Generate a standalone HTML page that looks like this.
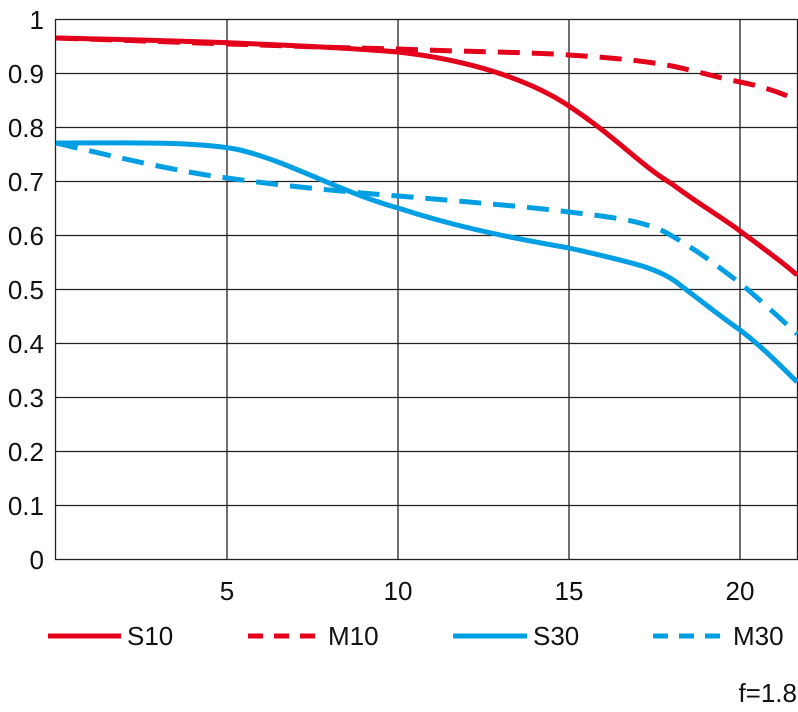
<!DOCTYPE html>
<html><head><style>body{margin:0;background:#fff}svg{display:block}</style></head><body>
<svg width="798" height="712" xmlns="http://www.w3.org/2000/svg" font-family="'Liberation Sans Narrow','Liberation Sans',sans-serif" font-size="26" fill="#111">
<g stroke="#222" stroke-width="1.3" fill="none">
<rect x="55.5" y="19.5" width="742" height="540"/>
<line x1="227" y1="19.5" x2="227" y2="559.5"/><line x1="398" y1="19.5" x2="398" y2="559.5"/><line x1="569" y1="19.5" x2="569" y2="559.5"/><line x1="740" y1="19.5" x2="740" y2="559.5"/>
<line x1="55.5" y1="73.5" x2="797" y2="73.5"/><line x1="55.5" y1="127.5" x2="797" y2="127.5"/><line x1="55.5" y1="181.5" x2="797" y2="181.5"/><line x1="55.5" y1="235.5" x2="797" y2="235.5"/><line x1="55.5" y1="289.5" x2="797" y2="289.5"/><line x1="55.5" y1="343.5" x2="797" y2="343.5"/><line x1="55.5" y1="397.5" x2="797" y2="397.5"/><line x1="55.5" y1="451.5" x2="797" y2="451.5"/><line x1="55.5" y1="505.5" x2="797" y2="505.5"/>
</g>
<g text-anchor="end">
<text x="44" y="29">1</text><text x="44" y="83">0.9</text><text x="44" y="137">0.8</text><text x="44" y="191">0.7</text><text x="44" y="245">0.6</text><text x="44" y="299">0.5</text><text x="44" y="353">0.4</text><text x="44" y="407">0.3</text><text x="44" y="461">0.2</text><text x="44" y="515">0.1</text><text x="44" y="569">0</text>
</g>
<g text-anchor="middle">
<text x="227" y="600">5</text><text x="398" y="600">10</text><text x="569" y="600">15</text><text x="740" y="600">20</text>
</g>
<g fill="none" stroke-width="5">
<path d="M56,38 C150,40 300,44 398,52 C470,60 530,80 569,106 C620,140 640,165 672,184 C700,205 720,216 740,231 C760,246 780,260 797,275" stroke="#e2001a"/>
<path d="M56,38 C150,41 300,47 398,49 C470,52 530,52 569,55 C620,58 650,62 672,66 C700,72 720,78 740,82 C770,88 785,95 797,100" stroke="#e2001a" stroke-dasharray="22,12"/>
<path d="M56,143 C120,143 200,141 240,150 C290,162 340,192 398,208 C450,225 500,236 569,248 C630,262 660,268 680,285 C700,300 720,316 740,330 C760,345 780,365 797,382" stroke="#009fe3"/>
<path d="M56,143 C120,158 180,172 227,178 C300,188 350,192 398,196 C470,202 530,207 569,212 C620,218 650,222 672,236 C700,252 720,268 740,283 C760,300 780,318 797,334" stroke="#009fe3" stroke-dasharray="22,12"/>
</g>
<g stroke-width="5">
<line x1="48" y1="636" x2="121" y2="636" stroke="#e2001a"/>
<line x1="248" y1="636" x2="321" y2="636" stroke="#e2001a" stroke-dasharray="15,11"/>
<line x1="453" y1="636" x2="527" y2="636" stroke="#009fe3"/>
<line x1="653" y1="636" x2="727" y2="636" stroke="#009fe3" stroke-dasharray="15,11"/>
</g>
<text x="127" y="645">S10</text><text x="328" y="645">M10</text><text x="533" y="645">S30</text><text x="733" y="645">M30</text>
<text x="797" y="702" text-anchor="end">f=1.8</text>
</svg>
</body></html>
